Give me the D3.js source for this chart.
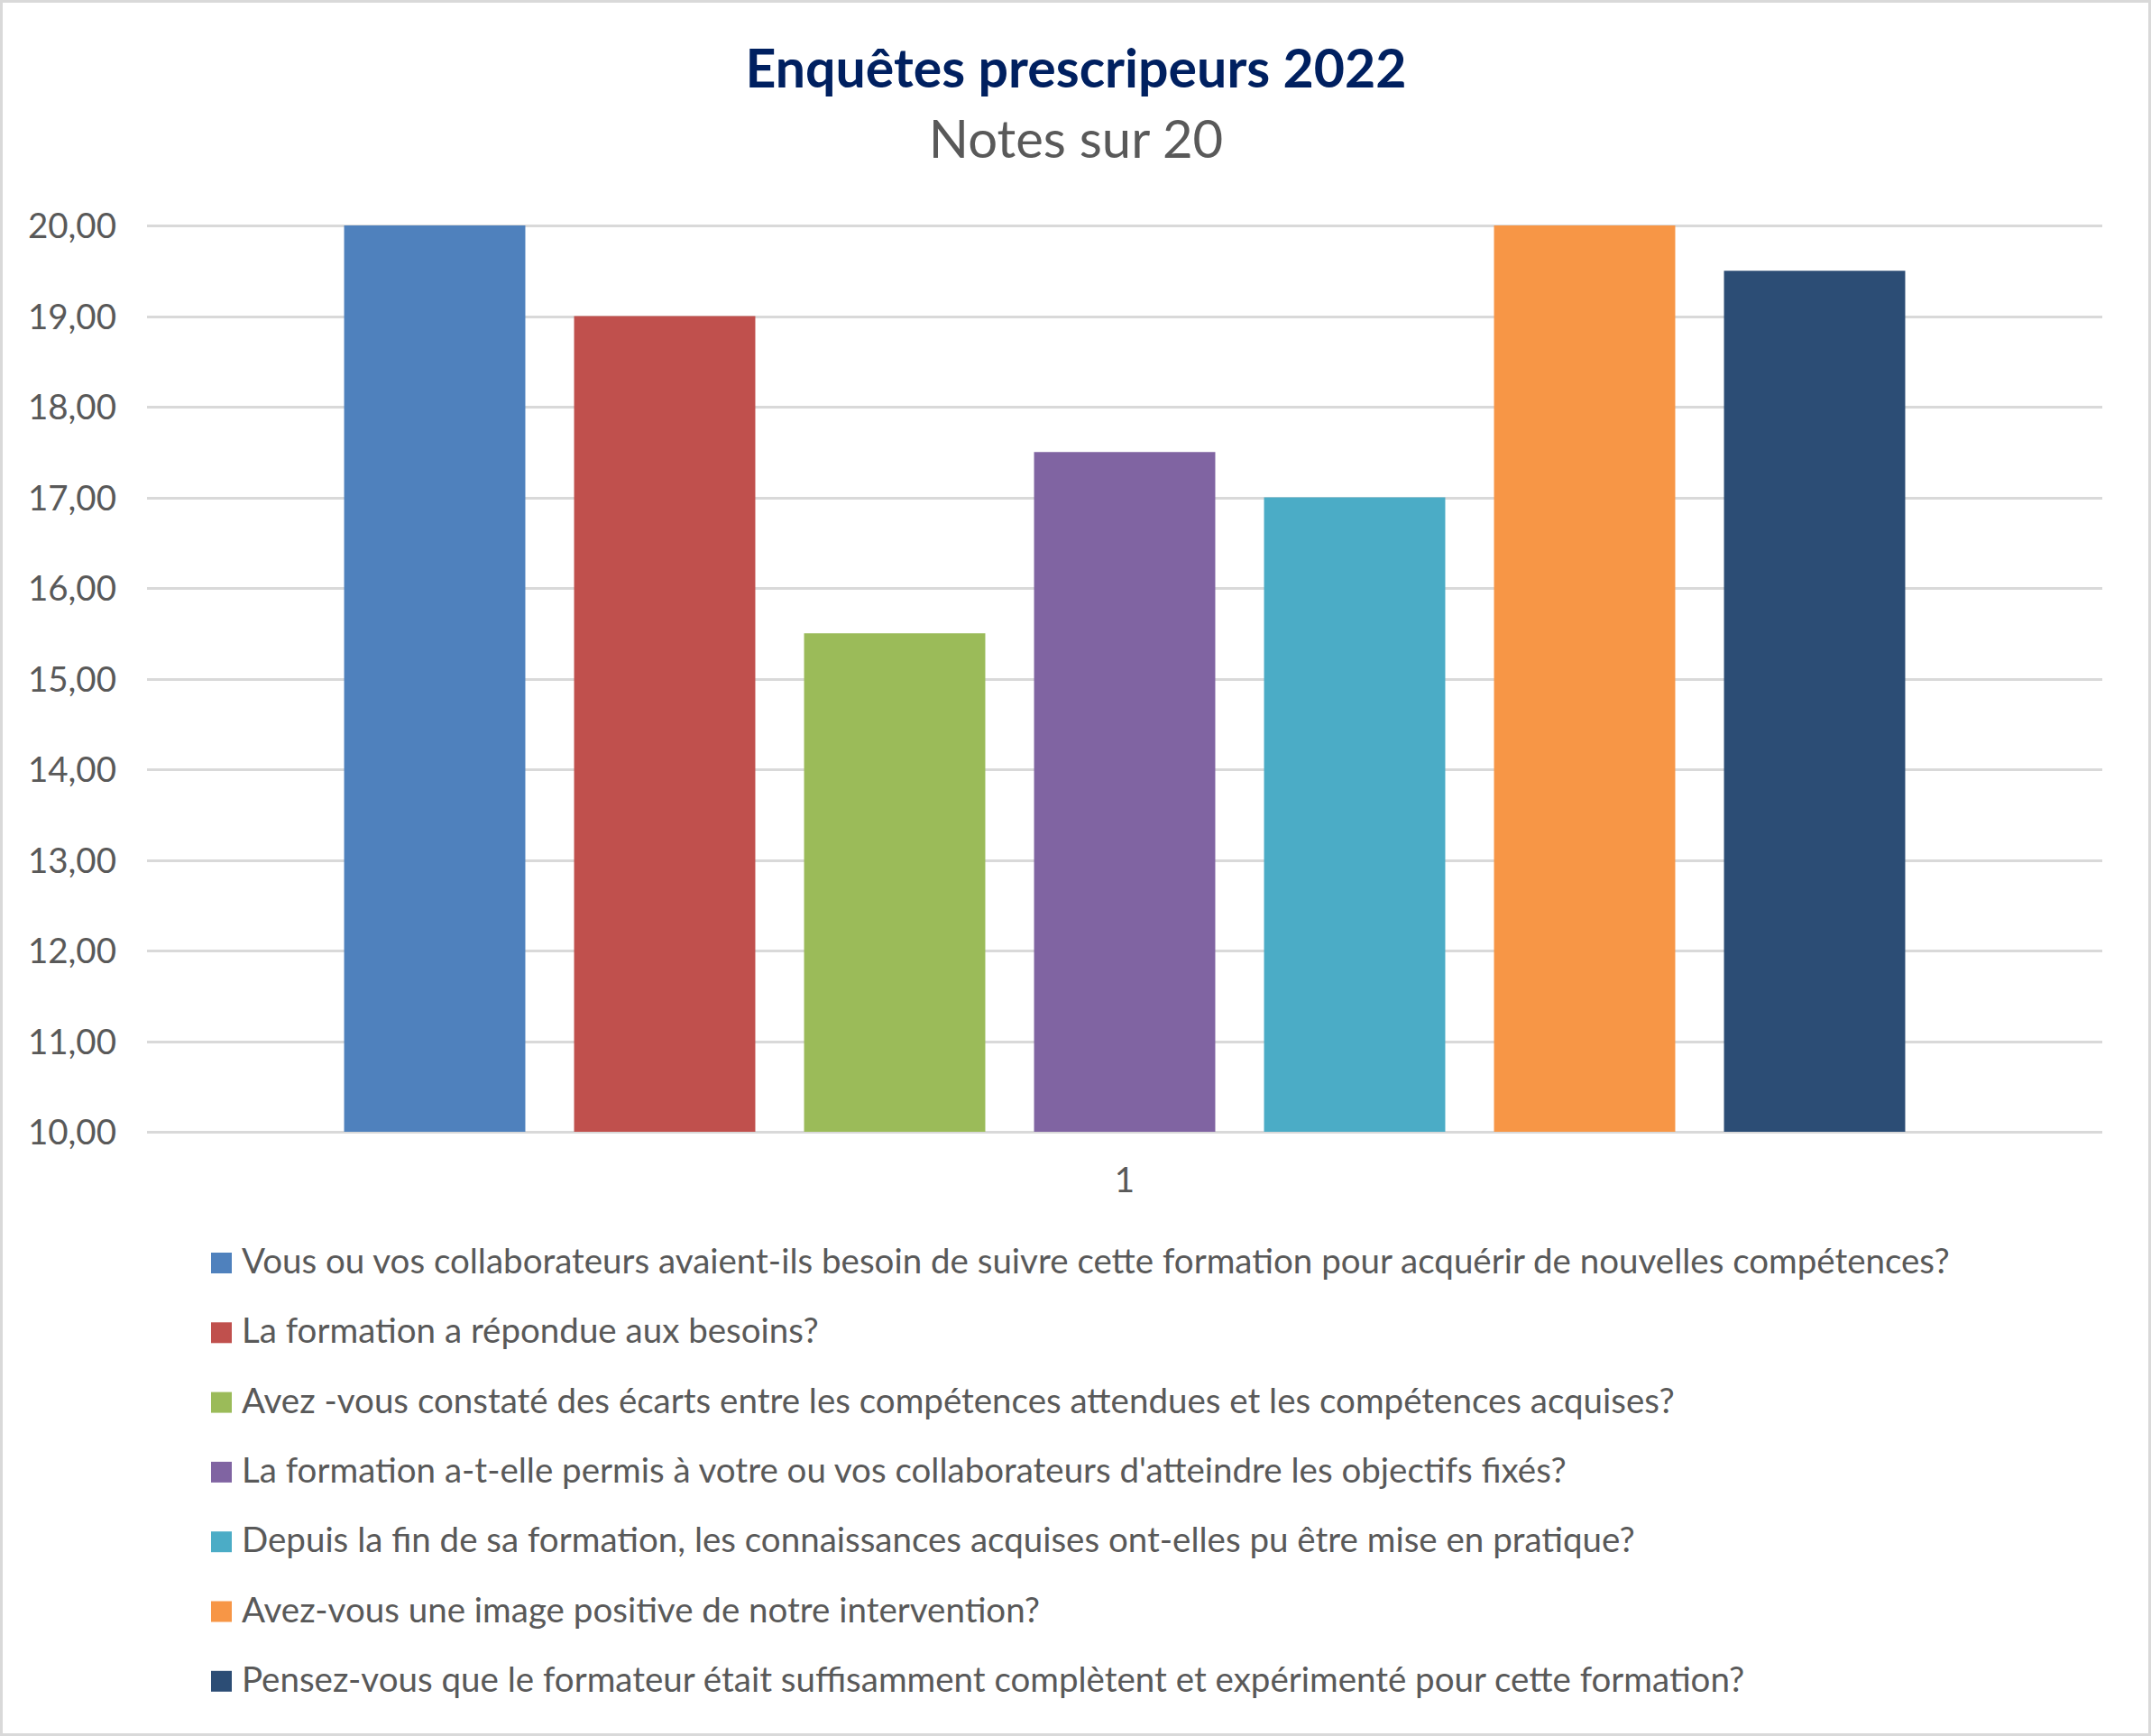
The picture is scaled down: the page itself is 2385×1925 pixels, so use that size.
<!DOCTYPE html>
<meta charset="utf-8">
<script src="https://cdn.jsdelivr.net/npm/d3@7"></script>
<style>
    body { margin: 0; background: #fff; }
    text { font-family: Lato, "Open Sans", sans-serif; fill: #595959; }
    .grid line { stroke: #D9D9D9; stroke-width: 3; shape-rendering: crispEdges; }
</style>
<body>
<script>

    // data
    var title = "Enquêtes prescripeurs 2022"
    var subtitle = "Notes sur 20"
    var category = "1"
    var questions = [
        "Vous ou vos collaborateurs avaient-ils besoin de suivre cette formation pour acquérir de nouvelles compétences?",
        "La formation a répondue aux besoins?",
        "Avez -vous constaté des écarts entre les compétences attendues et les compétences acquises?",
        "La formation a-t-elle permis à votre ou vos collaborateurs d'atteindre les objectifs fixés?",
        "Depuis la fin de sa formation, les connaissances acquises ont-elles pu être mise en pratique?",
        "Avez-vous une image positive de notre intervention?",
        "Pensez-vous que le formateur était suffisamment complètent et expérimenté pour cette formation?"
    ]
    var notes = [20, 19, 15.5, 17.5, 17, 20, 19.5]
    var yTicks = [10, 11, 12, 13, 14, 15, 16, 17, 18, 19, 20]

    var colors = ['#4F81BD', '#C0504D', '#9BBB59', '#8064A2', '#4BACC6', '#F79646', '#2C4D75']

    var W = 2385, H = 1925
    var plot = {left: 163, right: 2331, top: 250, bottom: 1255}
    var fontSize = 38.5

    var svg = d3.select("body").append("svg").attr("width", W).attr("height", H)

    svg.append("rect").attr("x", 1.5).attr("y", 1.5).attr("width", W - 3).attr("height", H - 3)
        .style("fill", "#fff").style("stroke", "#D9D9D9").style("stroke-width", 3)

    // titles
    svg.append("text").attr("x", 1193).attr("y", 97).attr("text-anchor", "middle")
        .style("font-size", "59px").style("font-weight", "bold").style("fill", "#002060").text(title)
    svg.append("text").attr("x", 1193).attr("y", 175).attr("text-anchor", "middle")
        .style("font-size", "58px").text(subtitle)

    var y_scale = d3.scaleLinear().domain([10, 20]).range([plot.bottom, plot.top])
    var x_scale = d3.scaleBand().domain(questions).range([plot.left, plot.right]).paddingInner(0.212).paddingOuter(0.857)

    // grid lines
    svg.append("g").attr("class", "grid").attr("transform", "translate(" + plot.left + ",0)")
        .call(d3.axisLeft(y_scale).tickValues(yTicks).tickSize(-(plot.right - plot.left)).tickFormat(""))
        .call(g => g.select(".domain").remove())

    // y labels
    var y_axis = d3.axisLeft(y_scale).tickValues(yTicks).tickSize(0).tickPadding(0)
        .tickFormat(d => d3.format(".2f")(d).replace(".", ","))
    svg.append("g").attr("transform", "translate(129,0)").call(y_axis)
        .call(g => g.select(".domain").remove())
        .selectAll("text").style("font-size", fontSize + "px").style("fill", "#595959")
        .style("font-family", "Lato, sans-serif").attr("dy", "0.36em")

    // bars
    svg.selectAll(".bar").data(notes).enter().append("rect").attr("class", "bar")
        .attr("x", (d, i) => x_scale(questions[i]))
        .attr("width", x_scale.bandwidth())
        .attr("y", d => y_scale(d))
        .attr("height", d => y_scale(10) - y_scale(d))
        .style("fill", (d, i) => colors[i])

    // category label
    svg.append("text").attr("x", (plot.left + plot.right) / 2).attr("y", 1322).attr("text-anchor", "middle")
        .style("font-size", fontSize + "px").text(category)

    // legend
    var rowH = 77.3
    var legend = svg.selectAll(".legend").data(questions).enter().append("g").attr("class", "legend")
        .attr("transform", (d, i) => "translate(0," + (1412 + rowH * i) + ")")
    legend.append("rect").attr("x", 234).attr("y", -23).attr("width", 23).attr("height", 23)
        .style("fill", (d, i) => colors[i])
    legend.append("text").attr("x", 268).attr("y", 0).style("font-size", fontSize + "px").text(d => d)

</script>
</body>
